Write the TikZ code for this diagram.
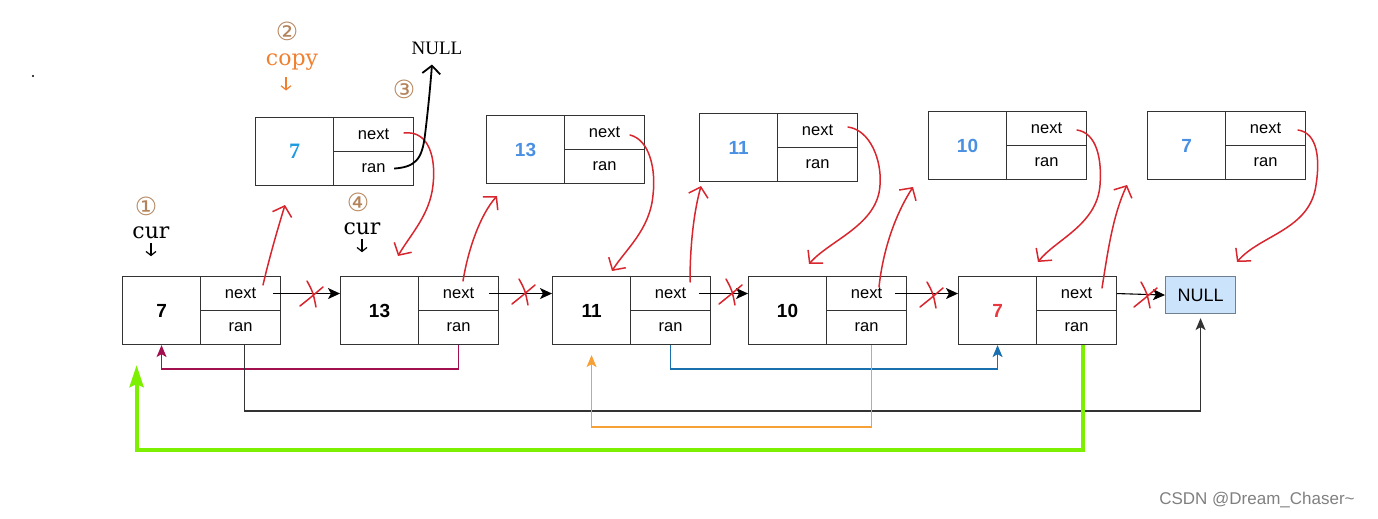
\documentclass[tikz,border=0pt]{standalone}
\usepackage{fontspec}
\setmainfont{Liberation Sans}
\newfontfamily\serifff{Liberation Serif}
\newfontfamily\dserif{DejaVu Serif}
\newfontfamily\djv{DejaVu Sans}
\usetikzlibrary{arrows.meta,calc}
\definecolor{boxline}{HTML}{333333}
\definecolor{cpblue}{HTML}{4A90E2}
\definecolor{cpcyan}{HTML}{1E9BE0}
\definecolor{numred}{HTML}{E8383D}
\definecolor{handred}{HTML}{D7262E}
\definecolor{circbrown}{HTML}{B5835A}
\definecolor{copyorange}{HTML}{F08030}
\definecolor{crim}{HTML}{A3104F}
\definecolor{lblue}{HTML}{1A6FAF}
\definecolor{lorng}{HTML}{F7A035}
\definecolor{lgreen}{HTML}{7CF000}
\definecolor{nullfill}{HTML}{CCE4FB}
\definecolor{nullline}{HTML}{6F7F8F}
\newcommand{\llrec}[5]{%
  \node[valcell,#5] (#1v) at (#2,#3) {#4};
  \node[fldcell] (#1n) at (#2+78,#3) {next};
  \node[fldcell] (#1r) at (#2+78,#3+34) {ran};
}
\begin{document}
\begin{tikzpicture}[x=1pt,y=-1pt,
  valcell/.style={draw=boxline, line width=1.1pt, minimum width=78pt, minimum height=68pt,
    inner sep=0pt, anchor=north west, font=\bfseries\fontsize{19}{22}\selectfont},
  fldcell/.style={draw=boxline, line width=1.1pt, minimum width=80pt, minimum height=34pt,
    inner sep=0pt, anchor=north west, font=\fontsize{16.5}{19}\selectfont},
  bluenum/.style={text=cpblue},
  nextarrow/.style={draw=black, line width=1.1pt, -{Stealth[length=12pt,width=11pt,inset=3pt]}},
  redx/.style={draw=handred, line width=1.5pt, line cap=round},
  handcurve/.style={draw=handred, line width=1.5pt, line cap=round,
    -{Straight Barb[length=9pt,width=20pt,line width=1.5pt]}},
  circ/.style={font=\djv\fontsize{25}{27}\selectfont, text=circbrown, inner sep=0pt},
  curlbl/.style={font=\dserif\fontsize{22}{24}\selectfont, inner sep=0pt},
  tinyarrow/.style={line width=1.2pt, -{Straight Barb[length=4pt,width=10pt,line width=1.2pt]}},
  bottomtip/.style={-{Stealth[length=12pt,width=10pt,inset=3pt]}},
]
\useasboundingbox (0,0) rectangle (1378,519);

% dot
\fill (33,76) circle (1.2);

% bottom list
\llrec{b1}{122}{276}{7}{}
\llrec{b2}{340}{276}{13}{}
\llrec{b3}{552}{276}{11}{}
\llrec{b4}{748}{276}{10}{}
\llrec{b5}{958}{276}{7}{text=numred}
\node[draw=nullline, fill=nullfill, line width=1.1pt, minimum width=70pt, minimum height=37pt,
  inner sep=0pt, anchor=north west, font=\fontsize{18}{20}\selectfont] (nul) at (1165,276) {NULL};

% copies
\llrec{c1}{255}{117}{7}{text=cpcyan, font=\serifff\bfseries\fontsize{22}{24}\selectfont}
\llrec{c2}{486}{115}{13}{bluenum}
\llrec{c3}{699}{113}{11}{bluenum}
\llrec{c4}{928}{111}{10}{bluenum}
\llrec{c5}{1147}{111}{7}{bluenum}

% next arrows
\draw[nextarrow] ([xshift=-8pt]b1n.east) -- (b2v.west |- b1n);
\draw[nextarrow] ([xshift=-10pt]b2n.east) -- (b3v.west |- b2n);
\draw[nextarrow] ([xshift=-12pt]b3n.east) -- (b4v.west |- b3n);
\draw[nextarrow] ([xshift=-12pt]b4n.east) -- (b5v.west |- b4n);
\draw[nextarrow] (b5n.east) -- (nul.west);

% red crosses
\coordinate (x1) at (312,294);
\coordinate (x2) at (524,292);
\coordinate (x3) at (731,292);
\coordinate (x4) at (932,295);
\coordinate (x5) at (1146,295);
\foreach \c in {x1,x2,x3,x4,x5}{
  \draw[redx] ($(\c)+(-12,12)$) .. controls ($(\c)+(-2,4)$) .. ($(\c)+(11,-7)$);
  \draw[redx] ($(\c)+(-5,-13)$) .. controls ($(\c)+(1,-2)$) .. ($(\c)+(4,13)$);
}

% bottom connectors
\draw[crim, line width=1.5pt, bottomtip]
  (b2r.south) -- ++(0,24) -| (b1v.south);
\draw[black!80, line width=1.3pt, shorten >=4pt, bottomtip]
  ([xshift=4pt]b1r.south) -- ++(0,66) -| (nul.south);
\draw[lblue, line width=1.5pt, bottomtip]
  (b3r.south) -- ++(0,24) -| (b5v.south);
\draw[lorng, line width=1.6pt, shorten >=10pt, bottomtip]
  ([xshift=5pt]b4r.south) -- ++(0,82) -| (b3v.south);
\draw[lgreen, line width=4pt, shorten >=20pt, -{Stealth[length=22pt,width=14pt,inset=3pt]}]
  ([xshift=6pt]b5r.south) -- ++(0,105) -| ([xshift=-25pt]b1v.south);

% hand-drawn red curves
\draw[handcurve] (263,285) .. controls (270,255) and (278,228) .. (285,205);
\draw[handcurve] (404,133) .. controls (430,130) and (436,160) .. (433,185) .. controls (430,215) and (410,235) .. (398,256);
\draw[handcurve] (463,281) .. controls (468,250) and (480,215) .. (497,196);
\draw[handcurve] (630,135) .. controls (650,140) and (656,170) .. (653,195) .. controls (650,230) and (625,250) .. (612,271);
\draw[handcurve] (690,282) .. controls (690,250) and (693,215) .. (701,186);
\draw[handcurve] (848,127) .. controls (870,130) and (882,160) .. (880,185) .. controls (878,225) and (830,240) .. (809,264);
\draw[handcurve] (879,287) .. controls (883,250) and (895,215) .. (913,187);
\draw[handcurve] (1077,130) .. controls (1097,133) and (1102,160) .. (1100,185) .. controls (1097,225) and (1055,240) .. (1038,262);
\draw[handcurve] (1102,288) .. controls (1108,250) and (1113,215) .. (1127,185);
\draw[handcurve] (1298,130) .. controls (1318,133) and (1320,160) .. (1316,185) .. controls (1310,230) and (1260,235) .. (1237,262);

% annotations
\node[circ] (n1) at (146,206) {①};
\node[curlbl] (cur1) at (151,233) {cur};
\draw[tinyarrow] ([yshift=-4pt]cur1.south) -- ++(0,13);

\node[circ] (n4) at (358,202) {④};
\node[curlbl] (cur2) at (362,229) {cur};
\draw[tinyarrow] ([yshift=-4pt]cur2.south) -- ++(0,13);

\node[circ] (n2) at (287,31) {②};
\node[curlbl, text=copyorange] (copy) at (292,62) {copy};
\draw[tinyarrow, copyorange] ([xshift=-6pt,yshift=-6pt]copy.south) -- ++(0,14);

\node[font=\serifff\fontsize{19}{21}\selectfont, inner sep=0pt] (topnull) at (437,48) {NULL};
\node[circ] (n3) at (404,89) {③};
\draw[line width=1.8pt, -{Straight Barb[length=8pt,width=18pt,line width=1.8pt]}]
  ([xshift=-20pt]c1r.east) .. controls (415,167) and (422,160) .. (425,135)
  .. controls (428,110) and (430,90) .. ([xshift=-5pt,yshift=-10pt]topnull.south);

% watermark
\node[font=\fontsize{17}{19}\selectfont, text=black!50, inner sep=0pt] (wm) at (1257,500) {CSDN @Dream\_Chaser\textasciitilde};
\end{tikzpicture}
\end{document}
